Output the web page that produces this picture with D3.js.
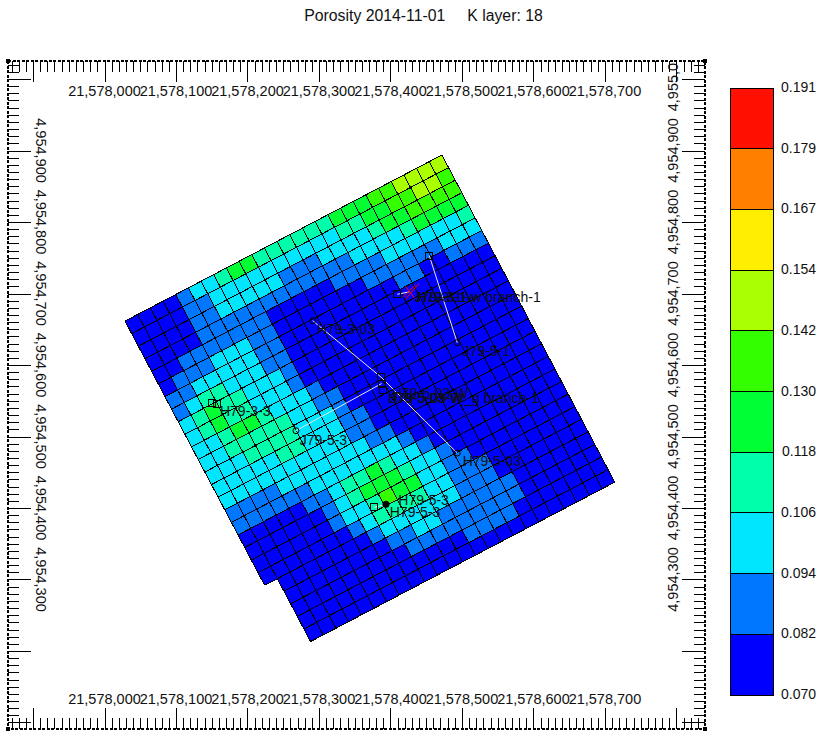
<!DOCTYPE html>
<html>
<head>
<meta charset="utf-8">
<title>Porosity 2014-11-01</title>
<script src="https://cdnjs.cloudflare.com/ajax/libs/d3/7.8.5/d3.min.js"></script>
<style>
  html, body { margin: 0; padding: 0; background: #fff; }
  svg { display: block; }
  text { font-family: "Liberation Sans", Arial, sans-serif; fill: #111; white-space: pre; }
</style>
</head>
<body>
<svg id="map" width="826" height="745"></svg>
<script>
// Colour classes of the porosity legend, low to high.
const classColors = ["#0000ff", "#0077ff", "#00e6ff", "#00ffaa", "#00ff33",
                     "#33ff00", "#aaff00", "#ffee00", "#ff8000", "#ff1000"];
const classBreaks = ["0.070", "0.082", "0.094", "0.106", "0.118", "0.130",
                     "0.142", "0.154", "0.167", "0.179", "0.191"];

// Porosity class of every grid cell: rows run from the north-west edge, "." is inactive.
const porosityRows = [
  "0000122344333333444556666",
  "0000112222222222334455665",
  "0000112222211122223445555",
  "0000111111111111222234444",
  "0011111110000011112222223",
  "0111222110000000111111222",
  "1122222110000000001100111",
  "1233222110000000000000000",
  "2343322210000000000000000",
  "2343322210000000000000000",
  "2234432221000000000000000",
  "2233333221100000000000000",
  "2223333222100000000000000",
  "2222233222110000000000000",
  "2222222222110000000000000",
  "1111222222211000000000000",
  "1111112222222100000000000",
  "0000011233432210000000000",
  "0000001234443221000000000",
  "0000001223544221100000000",
  "0000000123333221110000000",
  ".000000012222221110000000",
  ".000000001122111111000000",
  ".000000000111111111000000",
  ".000000000000011110000000",
  ".000000000000000000000000"
];

// Grid layout in map metres: north-west corner and the two cell edge vectors.
const gridOrigin = [21578028.7, 4954661.5];
const columnStep = [17.73, 9.29];
const rowStep = [9.3, -17.6];

// Well paths (easting, northing) and markers.
const wellTraces = [
  [[21578291.2, 4954662.0], [21578386.7, 4954583.2]],
  [[21578267.8, 4954508.1], [21578387.7, 4954574.1]],
  [[21578493.4, 4954476.9], [21578386.7, 4954583.2]],
  [[21578454.3, 4954752.9], [21578493.4, 4954631.2]],
  [[21578409.5, 4954698.9], [21578427.3, 4954702.5]],
  [[21578377.3, 4954401.0], [21578393.7, 4954405.2]]
];
const wellSquares = [
  [21578386.7, 4954583.2], [21578387.7, 4954574.1], [21578389.1, 4954565.0],
  [21578409.5, 4954698.9], [21578454.3, 4954752.9],
  [21578149.9, 4954546.4], [21578156.9, 4954545.5], [21578377.3, 4954401.0]
];
const wellCircles = [
  [21578291.2, 4954662.0], [21578267.8, 4954508.1], [21578493.4, 4954476.9],
  [21578493.4, 4954631.2]
];
const wellDots = [[21578393.7, 4954405.2]];
const redCrosses = [
  [[21578418.0, 4954695.0], [21578435.0, 4954712.0]],
  [[21578421.0, 4954692.0], [21578440.0, 4954714.0]],
  [[21578434.0, 4954693.0], [21578421.0, 4954710.0]]
];
const wellNames = ["H79-3-03", "J79-5-1", "H79-3-1", "J79-3-1-w", "H79-3-1-w branch-1",
                   "H79-5-03-W", "J79-5-03-W", "H79-5-03-W_g branch-1",
                   "H79-3-3", "J79-5-3", "H79-5-3", "H79-5-3", "H79-5-03"];
const wellNameAt = [
  [21578297, 4954643], [21578501, 4954613], [21578437, 4954688.5], [21578434, 4954688.5],
  [21578436, 4954688.5], [21578402, 4954554], [21578399, 4954547], [21578396.5, 4954547],
  [21578161.5, 4954529], [21578273, 4954488], [21578411, 4954404], [21578399, 4954388],
  [21578501, 4954459]
];

// Axis ticks.
const xMajorTicks = d3.range(21577900, 21578801, 100);
const xMinorTicks = d3.range(21577870, 21578840, 10);
const yMajorTicks = d3.range(4954100, 4955001, 100);
const yMinorTicks = d3.range(4954100, 4955021, 10);
const xLabelTicks = d3.range(21578000, 21578701, 100);
const yLeftLabelTicks = d3.range(4954300, 4954901, 100);
const yRightLabelTicks = d3.range(4954300, 4955001, 100);

const svg = d3.select("#map");
const x = d3.scaleLinear().domain([21577865, 21578840]).range([8, 705]);
const y = d3.scaleLinear().domain([4955025.2, 4954090.9]).range([61, 729]);
const classColor = d3.scaleOrdinal().domain(d3.range(classColors.length)).range(classColors);
const fmt = d3.format(",d");
const project = p => [x(p[0]), y(p[1])];

svg.append("text").attr("x", 423.5).attr("y", 21).attr("text-anchor", "middle")
  .attr("font-size", 15.8).text("Porosity 2014-11-01     K layer: 18");

// Grid cells: fills first, then one line per shared cell edge
const corner = (c, r) => project([
  gridOrigin[0] + c * columnStep[0] + r * rowStep[0],
  gridOrigin[1] + c * columnStep[1] + r * rowStep[1]
]);
const cells = porosityRows.flatMap((row, r) =>
  Array.from(row).map((v, c) => ({ r, c, v })).filter(d => d.v !== "."));
const gridLayer = svg.append("g").attr("shape-rendering", "crispEdges");
gridLayer.selectAll("polygon").data(cells).join("polygon")
  .attr("points", d => [corner(d.c, d.r), corner(d.c + 1, d.r), corner(d.c + 1, d.r + 1), corner(d.c, d.r + 1)].join(" "))
  .attr("fill", d => classColor(+d.v))
  .attr("stroke", d => classColor(+d.v)).attr("stroke-width", 0.6);

const active = (c, r) => porosityRows[r] !== undefined && porosityRows[r][c] !== undefined && porosityRows[r][c] !== ".";
const edges = d3.path();
cells.forEach(({ c, r }) => {
  const segment = (a, b) => { edges.moveTo(...a); edges.lineTo(...b); };
  segment(corner(c, r), corner(c + 1, r));
  segment(corner(c, r), corner(c, r + 1));
  if (!active(c + 1, r)) segment(corner(c + 1, r), corner(c + 1, r + 1));
  if (!active(c, r + 1)) segment(corner(c, r + 1), corner(c + 1, r + 1));
});
gridLayer.append("path").attr("d", edges.toString())
  .attr("fill", "none").attr("stroke", "#000").attr("stroke-width", 1);

// Wells
const path = d3.line().x(d => x(d[0])).y(d => y(d[1]));
const wells = svg.append("g");
wells.selectAll("path.trace").data(wellTraces).join("path").attr("class", "trace")
  .attr("d", path).attr("fill", "none").attr("stroke", "#e8e8e8").attr("stroke-width", 1);
wells.selectAll("path.cross").data(redCrosses).join("path").attr("class", "cross")
  .attr("d", path).attr("fill", "none").attr("stroke", "#ff0000").attr("stroke-width", 1);
wells.selectAll("rect").data(wellSquares).join("rect")
  .attr("x", d => x(d[0]) - 3.5).attr("y", d => y(d[1]) - 3.5)
  .attr("width", 7).attr("height", 7)
  .attr("fill", "none").attr("stroke", "#000").attr("shape-rendering", "crispEdges");
wells.selectAll("circle.open").data(wellCircles).join("circle").attr("class", "open")
  .attr("cx", d => x(d[0])).attr("cy", d => y(d[1])).attr("r", 3)
  .attr("fill", "none").attr("stroke", "#000");
wells.selectAll("circle.dot").data(wellDots).join("circle").attr("class", "dot")
  .attr("cx", d => x(d[0])).attr("cy", d => y(d[1])).attr("r", 3.5).attr("fill", "#000");
wells.selectAll("text").data(wellNames).join("text")
  .attr("x", (d, i) => x(wellNameAt[i][0])).attr("y", (d, i) => y(wellNameAt[i][1]))
  .attr("font-size", 14).text(d => d);

// Tick marks on the four sides of the frame
function ticks(axis, values, size, tx, ty) {
  const g = svg.append("g").attr("transform", `translate(${tx},${ty})`)
    .call(axis.tickValues(values).tickSize(size).tickFormat(""));
  g.select(".domain").remove();
  g.selectAll("text").remove();
  g.selectAll("line").attr("stroke", "#000").attr("shape-rendering", "crispEdges");
}
[[xMinorTicks, 11], [xMajorTicks, 21]].forEach(([v, s]) => {
  ticks(d3.axisBottom(x), v, s, 0, 61);
  ticks(d3.axisTop(x), v, s, 0, 729);
});
[[yMinorTicks, 11], [yMajorTicks, 23]].forEach(([v, s]) => {
  ticks(d3.axisRight(y), v, s, 8, 0);
  ticks(d3.axisLeft(y), v, s, 705, 0);
});

// Frame
svg.append("rect").attr("x", 8).attr("y", 61).attr("width", 697).attr("height", 668)
  .attr("fill", "none").attr("stroke", "#000").attr("stroke-width", 2)
  .attr("stroke-dasharray", "3 1.5").attr("shape-rendering", "crispEdges");
svg.append("g").selectAll("rect")
  .data([[8, 61], [705, 61], [8, 729], [705, 729]]).join("rect")
  .attr("x", d => d[0] - 2).attr("y", d => d[1] - 2)
  .attr("width", 4).attr("height", 4).attr("fill", "#000");

// Coordinate labels
const axisFont = 14.5;
[96, 704].forEach(base => {
  svg.append("g").selectAll("text").data(xLabelTicks).join("text")
    .attr("x", d => x(d)).attr("y", base).attr("text-anchor", "middle")
    .attr("font-size", axisFont).text(fmt);
});
svg.append("g").selectAll("text").data(yLeftLabelTicks).join("text")
  .attr("transform", d => `translate(35.5,${y(d)}) rotate(90)`)
  .attr("text-anchor", "middle").attr("font-size", axisFont).text(fmt);
svg.append("clipPath").attr("id", "inside").append("rect")
  .attr("x", 600).attr("y", 63).attr("width", 110).attr("height", 670);
svg.append("g").attr("clip-path", "url(#inside)").selectAll("text").data(yRightLabelTicks).join("text")
  .attr("transform", d => `translate(678,${y(d)}) rotate(-90)`)
  .attr("text-anchor", "middle").attr("font-size", axisFont).text(fmt);

// Colour legend
const legendY = d3.scalePoint().domain(classBreaks).range([695, 88]);
const legend = svg.append("g");
legend.selectAll("rect").data(classColors).join("rect")
  .attr("x", 730.5).attr("width", 43)
  .attr("y", (d, i) => legendY(classBreaks[i + 1]))
  .attr("height", (d, i) => legendY(classBreaks[i]) - legendY(classBreaks[i + 1]))
  .attr("fill", d => d).attr("stroke", "#000").attr("shape-rendering", "crispEdges");
legend.selectAll("text").data(classBreaks).join("text")
  .attr("x", d => d === "0.118" ? 782 : 781).attr("y", d => legendY(d) + 4)
  .attr("font-size", 14).text(d => d);
</script>
</body>
</html>
